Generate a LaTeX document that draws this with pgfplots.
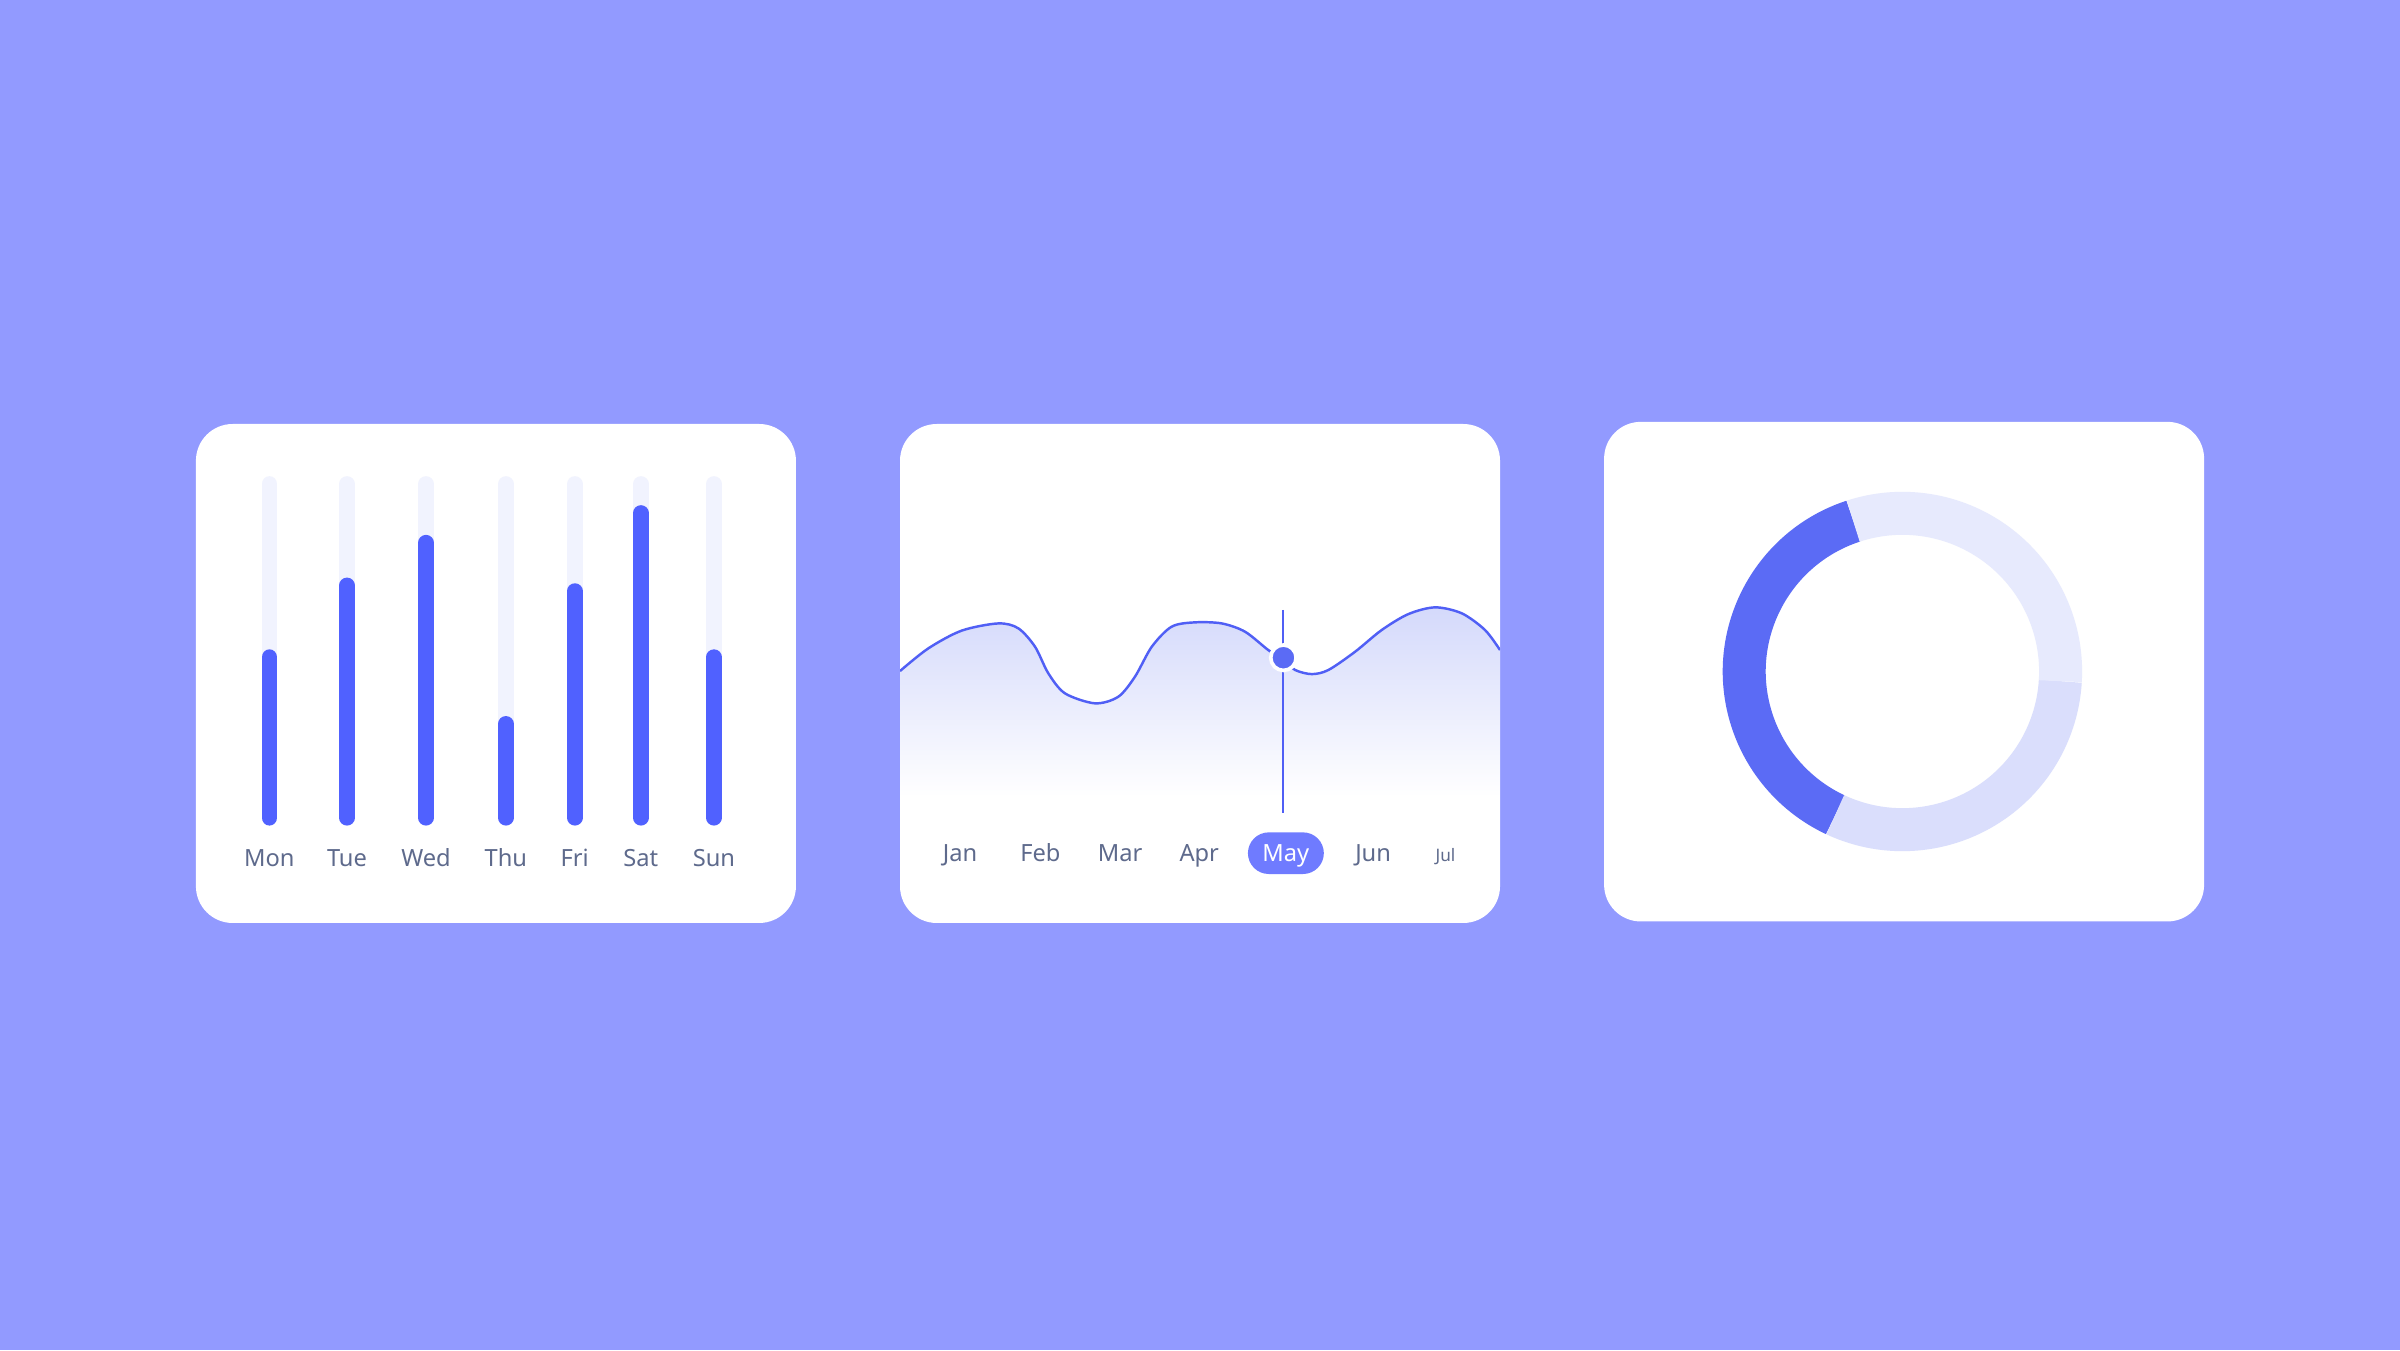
\documentclass[border=0pt]{standalone}
\usepackage{fontspec}
\setmainfont{Noto Sans}
\usepackage{pgfplots}
\usepackage{pgfplotstable}
\pgfplotsset{compat=1.18}

\definecolor{bgc}{RGB}{146,154,255}
\definecolor{barc}{RGB}{80,97,255}
\definecolor{track}{RGB}{241,243,254}
\definecolor{lab}{RGB}{94,106,140}
\definecolor{curve}{RGB}{80,95,245}
\definecolor{areatop}{RGB}{212,217,251}
\definecolor{areamid}{RGB}{228,231,253}
\definecolor{pill}{RGB}{111,123,255}
\definecolor{dotc}{RGB}{91,107,245}
\definecolor{donutA}{RGB}{91,107,245}
\definecolor{donutB}{RGB}{218,222,252}
\definecolor{donutC}{RGB}{231,234,253}

% weekly bars, value in % of the track
\pgfplotstableread{
x     val  full
176.0 48.1 100
226.7 69.6 100
278.3 82.4 100
330.5 28.1 100
375.5 67.9 100
418.7 91.3 100
466.4 48.1 100
}\weekdata

% monthly curve
\pgfplotstableread{
x     y
588.0 82.1
606.5 96.9
628.3 108.5
652.2 113.2
665.3 110.0
676.2 98.0
684.9 80.6
695.8 67.5
715.4 61.0
730.6 65.3
741.5 78.4
752.5 98.0
765.5 111.1
780.7 113.9
798.2 113.2
813.4 107.8
828.6 95.8
838.5 89.5
846.1 82.8
857.0 80.1
867.9 82.8
885.3 94.7
902.7 108.9
920.1 119.3
937.6 123.7
955.0 119.8
970.2 108.9
980.0 95.8
}\curvedata

% donut shares
\pgfplotstableread{
share
38
31
31
}\donutdata

\pgfplotsset{
  card/.style={
    scale only axis, width=3.92cm, height=3.26cm, anchor=south west,
    axis line style={draw=none}, major tick length=0pt, ytick=\empty,
    xticklabel style={anchor=base, text=lab, font=\fontsize{4.4}{5}\selectfont},
  },
}

\begin{document}
\begin{tikzpicture}
\path[use as bounding box] (0,0) rectangle (15.68,8.82);
\fill[bgc] (0,0) rectangle (15.68,8.82);
\fill[white, rounded corners=0.24cm] (1.28,2.79) rectangle (5.20,6.05);
\fill[white, rounded corners=0.24cm] (5.88,2.79) rectangle (9.80,6.05);
\fill[white, rounded corners=0.24cm] (10.48,2.80) rectangle (14.40,6.064);
% highlighted month
\fill[pill, rounded corners=0.136cm] (8.153,3.11) rectangle (8.649,3.382);

% bar card
\begin{axis}[card, at={(1.28cm,2.79cm)},
  xmin=128, xmax=520, ymin=-31.56, ymax=118.0,
  xtick={176.0,226.7,278.3,330.5,375.5,418.7,466.4},
  xticklabels={Mon,Tue,Wed,Thu,Fri,Sat,Sun},
  xticklabel style={yshift=0.37cm}]
\addplot[ycomb, no marks, track, line width=0.103cm, line cap=round] table[x=x, y=full] {\weekdata};
\addplot[ycomb, no marks, barc, line width=0.103cm, line cap=round] table[x=x, y=val] {\weekdata};
\end{axis}

% line card
\begin{axis}[card, at={(5.88cm,2.79cm)},
  xmin=588, xmax=980, ymin=-82.5, ymax=243.5,
  xtick={627.2,679.7,731.8,783.5,840.1,897.1,944.4},
  xticklabels={Jan,Feb,Mar,Apr,\textcolor{white}{May},Jun,{\fontsize{3.2}{4}\selectfont Jul}},
  xticklabel style={yshift=0.40cm}]
\addplot[smooth, draw=none, top color=areatop, middle color=areamid, bottom color=white] table[x=x, y=y] {\curvedata} \closedcycle;
\addplot[smooth, no marks, curve, line width=0.016cm] table[x=x, y=y] {\curvedata};
\addplot[no marks, curve, line width=0.012cm] coordinates {(838,122) (838,-10.9)};
\addplot[only marks, mark=*, mark size=0.083cm, mark options={fill=dotc, draw=white, line width=0.024cm}] coordinates {(838.5,90.8)};
\end{axis}

% donut card
\pgfplotstablegetelem{0}{share}\of\donutdata \let\sA\pgfplotsretval
\pgfplotstablegetelem{1}{share}\of\donutdata \let\sB\pgfplotsretval
\pgfplotstablegetelem{2}{share}\of\donutdata \let\sC\pgfplotsretval
\pgfmathsetmacro\aA{108.1}
\pgfmathsetmacro\aB{\aA+3.6*\sA}
\pgfmathsetmacro\aC{\aB+3.6*\sB}
\pgfmathsetmacro\aD{\aC+3.6*\sC}
\begin{axis}[card, at={(10.48cm,2.80cm)}, height=3.264cm,
  xmin=-194.9, xmax=197.1, ymin=-163.3, ymax=163.1, xtick=\empty, clip=false]
\draw[line width=0.281cm, donutA] (axis cs:0,0) ++(\aA:1.0335cm) arc[start angle=\aA, end angle=\aB, radius=1.0335cm];
\draw[line width=0.281cm, donutB] (axis cs:0,0) ++(\aB:1.0335cm) arc[start angle=\aB, end angle=\aC, radius=1.0335cm];
\draw[line width=0.281cm, donutC] (axis cs:0,0) ++(\aC:1.0335cm) arc[start angle=\aC, end angle=\aD, radius=1.0335cm];
\end{axis}
\end{tikzpicture}
\end{document}
